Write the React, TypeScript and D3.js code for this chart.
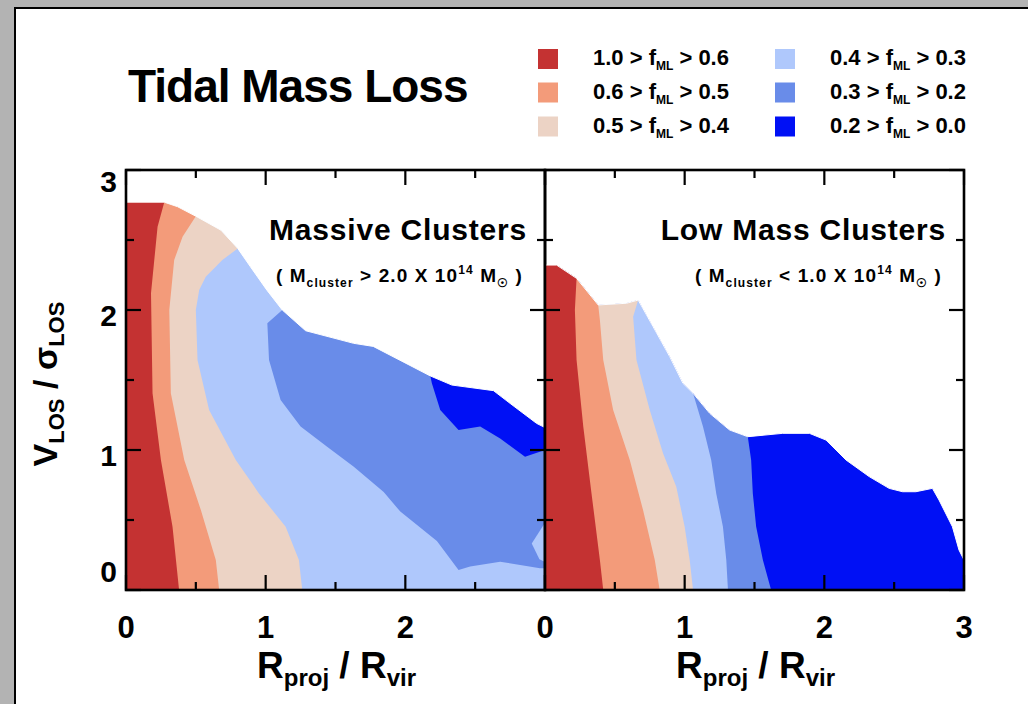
import React from "react";
import * as d3 from "d3";

type Pt = [number, number];

// f_ML bands, from the highest mass-loss fraction to the lowest
const bandColors = ["#c43232", "#f39b7a", "#ecd3c5", "#afc8fc", "#698ce9", "#0010f5"];
const bandUpper = ["1.0", "0.6", "0.5", "0.4", "0.3", "0.2"];
const bandLower = ["0.6", "0.5", "0.4", "0.3", "0.2", "0.0"];

const xTickLabelsLeft = [0, 1, 2];
const xTickLabelsRight = [0, 1, 2, 3];
const yTickLabels = [0, 1, 2, 3];

// ---- Massive clusters: outer (white) envelope of the contoured region, left to right
const massiveEnvelope: Pt[] = [
  [0, 2.77], [0.274, 2.77], [0.369, 2.738], [0.5, 2.67], [0.68, 2.57], [0.8, 2.44],
  [0.89, 2.31], [1.01, 2.14], [1.119, 2.0], [1.286, 1.852], [1.63, 1.762], [1.77, 1.74],
  [2.179, 1.529], [2.333, 1.464], [2.631, 1.424], [2.75, 1.333], [2.94, 1.19], [3.0, 1.16],
];
// band edges, each starting on the envelope and running down to V = 0
const massiveRedEdge: Pt[] = [
  [0.274, 2.77], [0.226, 2.595], [0.179, 2.12], [0.19, 1.405], [0.25, 0.929], [0.333, 0.452], [0.38, 0],
];
const massiveSalmonEdge: Pt[] = [
  [0.5, 2.67], [0.405, 2.524], [0.345, 2.357], [0.31, 2.0], [0.321, 1.405], [0.417, 0.929],
  [0.536, 0.571], [0.643, 0.214], [0.667, 0],
];
const massivePaleEdge: Pt[] = [
  [0.8, 2.44], [0.69, 2.357], [0.571, 2.238], [0.524, 2.143], [0.5, 2.0], [0.512, 1.643],
  [0.595, 1.286], [0.786, 0.929], [0.952, 0.69], [1.143, 0.452], [1.238, 0.214], [1.262, 0],
];
// lower boundary of the 0.3-0.2 island, from the right edge back to the envelope
const massiveMediumStart = 1.119;
const massiveMediumLower: Pt[] = [
  [3.0, 0.155], [2.964, 0.155], [2.679, 0.202], [2.464, 0.167], [2.381, 0.143], [2.226, 0.35],
  [1.964, 0.56], [1.845, 0.7], [1.631, 0.881], [1.44, 1.024], [1.25, 1.167], [1.107, 1.357],
  [1.024, 1.643], [1.012, 1.905],
];
// lower boundary of the 0.2-0.0 island
const massiveDarkStart = 2.179;
const massiveDarkLower: Pt[] = [
  [3.0, 1.0], [2.857, 0.952], [2.679, 1.083], [2.536, 1.167], [2.381, 1.143], [2.25, 1.286], [2.19, 1.476],
];
// small 0.4-0.3 notch on the right edge
const massiveNotch: Pt[] = [[3.0, 0.48], [2.905, 0.333], [2.96, 0.22], [3.0, 0.2]];

// ---- Low mass clusters
const lowEnvelope: Pt[] = [
  [0, 2.321], [0.083, 2.321], [0.226, 2.226], [0.381, 2.036], [0.583, 2.048], [0.667, 2.071],
  [0.774, 1.881], [0.893, 1.667], [0.988, 1.476], [1.06, 1.405], [1.179, 1.262], [1.321, 1.143],
  [1.452, 1.095], [1.702, 1.119], [1.893, 1.119], [2.012, 1.071], [2.155, 0.929], [2.321, 0.81],
  [2.464, 0.726], [2.56, 0.702], [2.655, 0.702], [2.774, 0.726], [2.821, 0.643], [2.917, 0.452],
  [2.964, 0.286], [3.0, 0.214],
];
const lowRedEdge: Pt[] = [
  [0.226, 2.226], [0.214, 2.0], [0.226, 1.643], [0.274, 1.167], [0.333, 0.69], [0.393, 0.214], [0.417, 0],
];
const lowSalmonEdge: Pt[] = [
  [0.381, 2.036], [0.393, 1.929], [0.417, 1.643], [0.488, 1.286], [0.607, 0.929], [0.702, 0.571],
  [0.786, 0.214], [0.821, 0],
];
const lowPaleEdge: Pt[] = [
  [0.667, 2.071], [0.631, 1.952], [0.655, 1.643], [0.75, 1.286], [0.845, 0.976], [0.94, 0.738],
  [1.0, 0.452], [1.036, 0.214], [1.06, 0],
];
const lowLightEdge: Pt[] = [
  [1.06, 1.405], [1.131, 1.167], [1.19, 0.929], [1.226, 0.69], [1.274, 0.452], [1.298, 0.214], [1.31, 0],
];
const lowMediumEdge: Pt[] = [
  [1.452, 1.095], [1.476, 0.929], [1.488, 0.69], [1.512, 0.452], [1.56, 0.214], [1.619, 0],
];

// polygon helpers (data coordinates)
const fullRegion = (env: Pt[]): Pt[] => [[0, 0], ...env, [3, 0]];
const leftOf = (env: Pt[], edge: Pt[]): Pt[] => [[0, 0], ...env.filter((p) => p[0] < edge[0][0]), ...edge];
const island = (env: Pt[], x0: number, lower: Pt[]): Pt[] => [...env.filter((p) => p[0] >= x0), ...lower];

type Region = { band: number; pts: Pt[] };

const massiveRegions: Region[] = [
  { band: 3, pts: fullRegion(massiveEnvelope) },
  { band: 4, pts: island(massiveEnvelope, massiveMediumStart, massiveMediumLower) },
  { band: 5, pts: island(massiveEnvelope, massiveDarkStart, massiveDarkLower) },
  { band: 3, pts: massiveNotch },
  { band: 2, pts: leftOf(massiveEnvelope, massivePaleEdge) },
  { band: 1, pts: leftOf(massiveEnvelope, massiveSalmonEdge) },
  { band: 0, pts: leftOf(massiveEnvelope, massiveRedEdge) },
];

const lowRegions: Region[] = [
  { band: 5, pts: fullRegion(lowEnvelope) },
  { band: 4, pts: leftOf(lowEnvelope, lowMediumEdge) },
  { band: 3, pts: leftOf(lowEnvelope, lowLightEdge) },
  { band: 2, pts: leftOf(lowEnvelope, lowPaleEdge) },
  { band: 1, pts: leftOf(lowEnvelope, lowSalmonEdge) },
  { band: 0, pts: leftOf(lowEnvelope, lowRedEdge) },
];

const W = 1028;
const H = 704;
const TOP = 170;
const BOTTOM = 590;
const PW = 419;
const FONT = "'Liberation Sans', Arial, Helvetica, sans-serif";

type PanelProps = {
  x0: number;
  regions: Region[];
  envelope: Pt[];
  title: string;
  sign: string;
  mass: string;
  xLabels: number[];
  showY: boolean;
};

function Panel({ x0, regions, envelope, title, sign, mass, xLabels, showY }: PanelProps) {
  const xs = d3.scaleLinear().domain([0, 3]).range([x0, x0 + PW]);
  const ys = d3.scaleLinear().domain([0, 3]).range([BOTTOM, TOP]);
  const line = d3
    .line<Pt>()
    .x((p) => xs(p[0]))
    .y((p) => ys(p[1]));
  const ticks = d3.range(0, 3.001, 0.5);
  const len = (v: number) => (Math.abs(v - Math.round(v)) < 1e-6 ? 15 : 8);
  const right = x0 + PW;
  return (
    <g>
      {regions.map((r, i) => (
        <path key={i} d={line(r.pts) + "Z"} fill={bandColors[r.band]} stroke="none" />
      ))}
      {/* clean outer edge of the stacked bands */}
      <path d={line(envelope) ?? ""} fill="none" stroke="#fff" strokeWidth={1} />
      {/* ticks on all four sides, pointing inward */}
      {ticks.map((v) => (
        <g key={"t" + v} stroke="#000" strokeWidth={2.2}>
          <line x1={xs(v)} x2={xs(v)} y1={BOTTOM} y2={BOTTOM - len(v)} />
          <line x1={xs(v)} x2={xs(v)} y1={TOP} y2={TOP + len(v)} />
          <line x1={x0} x2={x0 + len(v)} y1={ys(v)} y2={ys(v)} />
          <line x1={right} x2={right - len(v)} y1={ys(v)} y2={ys(v)} />
        </g>
      ))}
      <rect x={x0} y={TOP} width={PW} height={BOTTOM - TOP} fill="none" stroke="#000" strokeWidth={2.6} />
      {xLabels.map((v) => (
        <text key={"xl" + v} x={xs(v)} y={638} textAnchor="middle" fontSize={31} fontWeight="bold" fontFamily={FONT}>
          {v}
        </text>
      ))}
      {showY &&
        yTickLabels.map((v) => (
          <text
            key={"yl" + v}
            x={x0 - 9}
            y={Math.min(Math.max(ys(v) + 16, TOP + 22), BOTTOM - 8)}
            textAnchor="end"
            fontSize={30}
            fontWeight="bold"
            fontFamily={FONT}
          >
            {v}
          </text>
        ))}
      <text x={(x0 + right) / 2 + 1} y={678} textAnchor="middle" fontSize={37} fontWeight="bold" fontFamily={FONT}>
        R
        <tspan fontSize={24} dy={8}>proj</tspan>
        <tspan dy={-8}> / R</tspan>
        <tspan fontSize={24} dy={8}>vir</tspan>
      </text>
      <text x={right - 18} y={240} textAnchor="end" fontSize={30} fontWeight="bold" letterSpacing={0.8} fontFamily={FONT}>
        {title}
      </text>
      <text x={right - 22} y={282} textAnchor="end" fontSize={19} fontWeight="bold" letterSpacing={1.1} fontFamily={FONT}>
        ( M
        <tspan fontSize={12} dy={5}>cluster</tspan>
        <tspan dy={-5}>{` ${sign} ${mass} X 10`}</tspan>
        <tspan fontSize={12} dy={-8}>14</tspan>
        <tspan dy={8}> M</tspan>
        <tspan fontSize={12} dy={5}>☉</tspan>
        <tspan dy={-5}> )</tspan>
      </text>
    </g>
  );
}

export default function App() {
  const legendX = [538, 775];
  const legendY = [49, 82.5, 116.5];
  return (
    <svg
      width={W}
      height={H}
      viewBox={`0 0 ${W} ${H}`}
      style={{ position: "absolute", left: 0, top: 0, display: "block" }}
    >
      <rect x={0} y={0} width={W} height={H} fill="#b3b3b3" />
      <rect x={15} y={8} width={W - 15} height={H - 8} fill="#fff" />
      <line x1={14} x2={W} y1={8} y2={8} stroke="#000" strokeWidth={2} />
      <line x1={15} x2={15} y1={7} y2={H} stroke="#000" strokeWidth={2} />

      <text x={128} y={101.5} fontSize={46} fontWeight="bold" letterSpacing={-1} fontFamily={FONT}>
        Tidal Mass Loss
      </text>

      {bandColors.map((c, i) => {
        const col = Math.floor(i / 3);
        const row = i % 3;
        const lx = legendX[col];
        const ly = legendY[row];
        return (
          <g key={"lg" + i}>
            <rect x={lx} y={ly} width={20} height={20} fill={c} />
            <text x={lx + 55} y={ly + 16} fontSize={22} fontWeight="bold" fontFamily={FONT}>
              {`${bandUpper[i]} > f`}
              <tspan fontSize={12} dy={5}>ML</tspan>
              <tspan dy={-5}>{` > ${bandLower[i]}`}</tspan>
            </text>
          </g>
        );
      })}

      <text
        transform="translate(57,384) rotate(-90)"
        textAnchor="middle"
        fontSize={34}
        fontWeight="bold"
        fontFamily={FONT}
      >
        V
        <tspan fontSize={22} dy={7}>LOS</tspan>
        <tspan dy={-7}> / σ</tspan>
        <tspan fontSize={22} dy={7}>LOS</tspan>
      </text>

      <Panel
        x0={126}
        regions={massiveRegions}
        envelope={massiveEnvelope}
        title="Massive Clusters"
        sign=">"
        mass="2.0"
        xLabels={xTickLabelsLeft}
        showY={true}
      />
      <Panel
        x0={545}
        regions={lowRegions}
        envelope={lowEnvelope}
        title="Low Mass Clusters"
        sign="<"
        mass="1.0"
        xLabels={xTickLabelsRight}
        showY={false}
      />
    </svg>
  );
}
